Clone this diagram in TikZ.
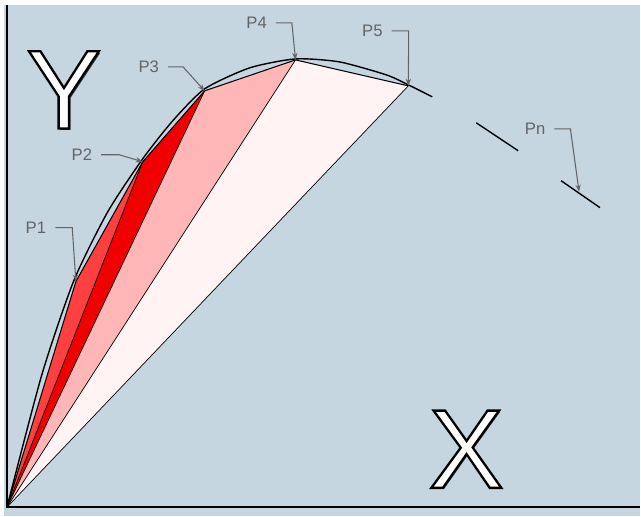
\documentclass[tikz,border=0pt]{standalone}
\usepackage{fontspec}
\setmainfont{Liberation Sans}
\usetikzlibrary{arrows.meta}
\definecolor{bgBlue}  {RGB}{197,214,224}
\definecolor{redA}    {RGB}{255,64,64}
\definecolor{redB}    {RGB}{240,0,0}
\definecolor{pinkC}   {RGB}{255,182,182}
\definecolor{pinkD}   {RGB}{255,243,243}
\definecolor{txtGray} {RGB}{100,100,100}
\newcommand{\outl}[1]{\special{pdf:literal 0 G 1.3 w 2 Tr}#1\special{pdf:literal 0 Tr}}

\begin{document}
\begin{tikzpicture}[x=0.02cm, y=-0.02cm,
    LBL/.style={font=\fontsize{9.5}{11}\selectfont, text=txtGray, inner ysep=1pt, inner xsep=5pt},
    LDR/.style={-{Stealth[length=4pt,width=3pt]}, txtGray, semithick},
    BIG/.style={font=\fontsize{64}{70}\selectfont, inner sep=0pt}]
    % background
    \fill[white] (0,0) rectangle (641,517);
    \fill[bgBlue] (4,5) rectangle (641,517);
    % points on the curve
    \coordinate (o)  at (7,508);
    \coordinate (p1) at (76,282);
    \coordinate (p2) at (143,162);
    \coordinate (p3) at (205,91);
    \coordinate (p4) at (296,60);
    \coordinate (p5) at (409,86);
    \coordinate (pn) at (580,192);
    % triangles
    \fill[pinkD] (o) -- (p4) -- (p5) -- cycle;
    \fill[pinkC] (o) -- (p3) -- (p4) -- cycle;
    \fill[redB]  (o) -- (p2) -- (p3) -- cycle;
    \fill[redA]  (o) -- (p1) -- (p2) -- cycle;
    \draw[thin] (o) -- (p2); \draw[thin] (o) -- (p3); \draw[thin] (o) -- (p4); \draw[thin] (o) -- (p5);
    \draw[semithick] (o) -- (p1) -- (p2) -- (p3) -- (p4) -- (p5);
    % curve
    \draw[thick] plot[smooth, tension=0.4] coordinates {(7,508) (42,375) (74,281) (108,212) (143,159)
        (173,121) (205,89) (250,68) (296,59) (340,62) (387,75) (409,85) (433,97)};
    \coordinate (s1a) at (477,123); \coordinate (s1b) at (519,151);
    \coordinate (s2a) at (562,181); \coordinate (s2b) at (601,208);
    \draw[thick] (s1a) -- (s1b);
    \draw[thick] (s2a) -- (s2b);
    % axes
    \draw[line width=1.2pt] (7,5) -- (o) -- (641,508);
    % labels
    \node[LBL] (l1) at (36,228) {P1};
    \node[LBL] (l2) at (82,155) {P2};
    \node[LBL] (l3) at (149,67) {P3};
    \node[LBL] (l4) at (257,23) {P4};
    \node[LBL] (l5) at (373,31) {P5};
    \node[LBL] (ln) at (536,129) {Pn};
    \draw[LDR] (l1.east) -- ++(17,0) -- (p1);
    \draw[LDR] (l2.east) -- ++(18,0) -- (p2);
    \draw[LDR] (l3.east) -- ++(15,0) -- (p3);
    \draw[LDR] (l4.east) -- ++(16,0) -- (p4);
    \draw[LDR] (l5.east) -- ++(17,0) -- (p5);
    \draw[LDR] (ln.east) -- ++(16,0) -- (pn);
    % big axis letters
    \node[BIG, text=black!80, shift={(1pt,-1pt)}] (yshd) at (64,90) {Y};
    \node[BIG, text=black!80, shift={(1pt,-1pt)}] (xshd) at (467,450) {X};
    \node[BIG, text=white] (ylab) at (64,90) {\outl{Y}};
    \node[BIG, text=white] (xlab) at (467,450) {\outl{X}};
\end{tikzpicture}
\end{document}
